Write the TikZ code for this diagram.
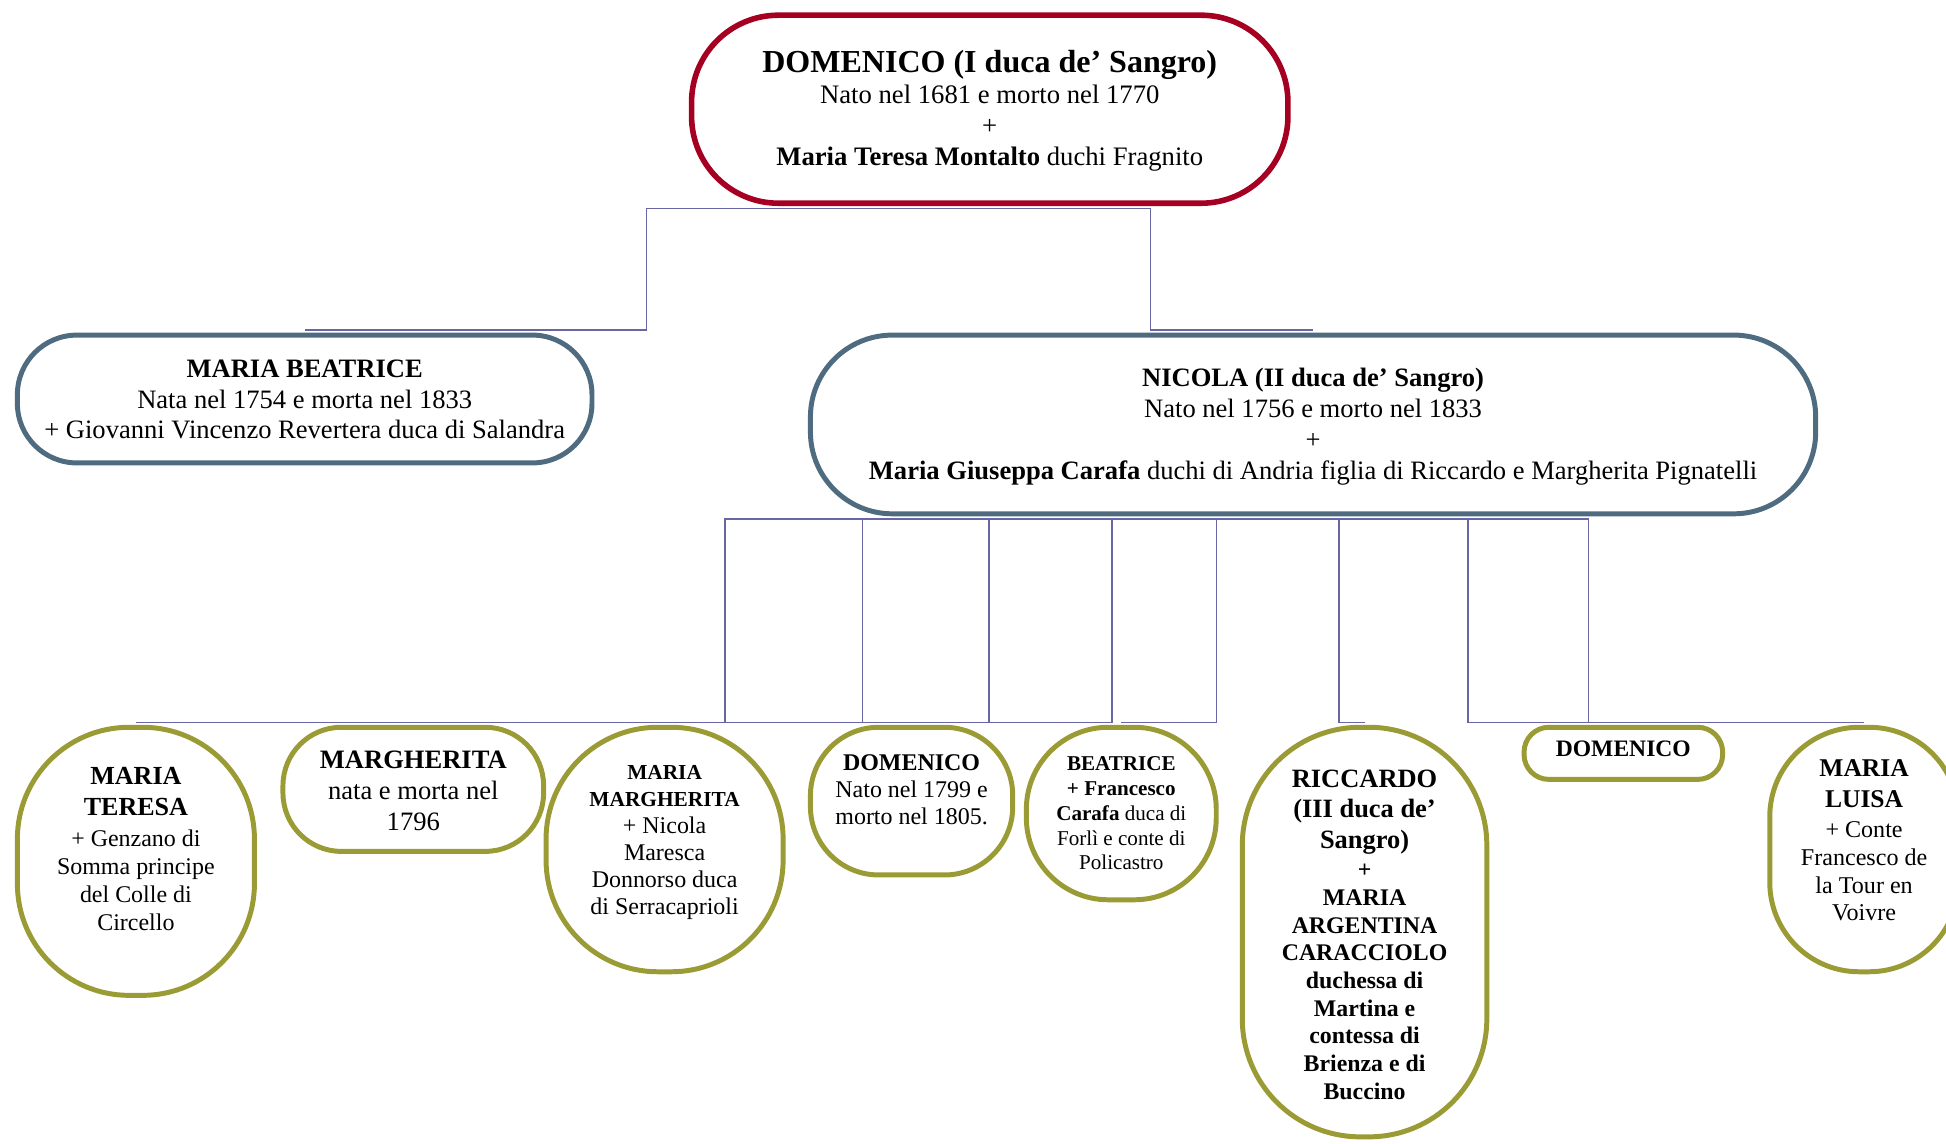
\documentclass[tikz,border=0pt]{standalone}
\usepackage{fontspec}
\setmainfont{Liberation Serif}
\definecolor{cRed}{RGB}{165,0,33}
\definecolor{cSlate}{RGB}{78,107,128}
\definecolor{cOlive}{RGB}{154,155,52}
\definecolor{cLine}{RGB}{105,102,165}
\tikzset{
  redbox/.style={draw=cRed, line width=4.5pt, outer sep=4.25pt, inner sep=0pt},
  slatebox/.style={draw=cSlate, line width=4pt, outer sep=4pt, inner sep=0pt},
  olivebox/.style={draw=cOlive, line width=4pt, outer sep=4pt, inner sep=0pt},
  conn/.style={draw=cLine, line width=1.2pt},
  txt/.style={anchor=north, inner sep=0pt, align=center},
}
\newcommand{\fs}[2]{\fontsize{#1}{#2}\selectfont}
\begin{document}
\begin{tikzpicture}[x=1pt,y=-1pt]
\clip (0,0) rectangle (1568,921);
% ---- parent shapes
\node[redbox, rounded corners=70pt, minimum width=480.5pt, minimum height=151.5pt] (dom) at (797.5,88) {};
\node[slatebox, rounded corners=48pt, minimum width=463pt, minimum height=103pt] (mb) at (245.5,321.5) {};
\node[slatebox, rounded corners=66pt, minimum width=810pt, minimum height=144pt] (nic) at (1058,342) {};
% ---- children shapes
\node[olivebox, rounded corners=90pt, minimum width=191pt, minimum height=216pt] (mt) at (109.5,694) {};
\node[olivebox, rounded corners=47pt, minimum width=210pt, minimum height=100pt] (mg) at (333,636) {};
\node[olivebox, rounded corners=90pt, minimum width=191pt, minimum height=197pt] (mm) at (535.5,684.5) {};
\node[olivebox, rounded corners=55pt, minimum width=163pt, minimum height=119pt] (d1) at (734.5,645.5) {};
\node[olivebox, rounded corners=66pt, minimum width=153pt, minimum height=139pt] (be) at (903.5,655.5) {};
\node[olivebox, rounded corners=95pt, minimum width=197pt, minimum height=330pt] (ri) at (1099.5,751) {};
\node[olivebox, rounded corners=20pt, minimum width=160pt, minimum height=42pt] (d2) at (1308,607) {};
\node[olivebox, rounded corners=72pt, minimum width=152pt, minimum height=197pt] (ml) at (1502,684.5) {};
% ---- texts
\node[txt, font=\fs{21.5}{25}] (dom-t) at (797.5,40)
  {{\fs{25.8}{25}\bfseries DOMENICO (I duca de' Sangro)}\\Nato nel 1681 e morto nel 1770\\+\\\textbf{Maria Teresa Montalto} duchi Fragnito};
\node[txt, font=\fs{21.4}{24.5}] (mb-t) at (245.5,290)
  {\textbf{MARIA BEATRICE}\\Nata nel 1754 e morta nel 1833\\+ Giovanni Vincenzo Revertera duca di Salandra};
\node[txt, font=\fs{21.4}{25}] (nic-t) at (1058,296)
  {\textbf{NICOLA (II duca de' Sangro)}\\Nato nel 1756 e morto nel 1833\\+\\\textbf{Maria Giuseppa Carafa} duchi di Andria figlia di Riccardo e Margherita Pignatelli};
\node[txt, font=\fs{19.3}{22.5}] (mt-t) at (109.5,618)
  {{\fs{21}{25}\bfseries MARIA}\\[2.5pt]{\fs{21}{25}\bfseries TERESA}\\[2.5pt]+ Genzano di\\Somma principe\\del Colle di\\Circello};
\node[txt, font=\fs{21.4}{25}] (mg-t) at (333,605)
  {\textbf{MARGHERITA}\\nata e morta nel\\1796};
\node[txt, font=\fs{19.3}{21.8}] (mm-t) at (535.5,616.3)
  {{\fs{17.2}{21}\bfseries MARIA}\\{\fs{17.2}{21}\bfseries MARGHERITA}\\+ Nicola\\Maresca\\Donnorso duca\\di Serracaprioli};
\node[txt, font=\fs{19.3}{22}] (d1-t) at (734.5,607.6)
  {\textbf{DOMENICO}\\Nato nel 1799 e\\morto nel 1805.};
\node[txt, font=\fs{17}{20}] (be-t) at (903.5,609.4)
  {\textbf{BEATRICE}\\\textbf{+ Francesco}\\\textbf{Carafa} duca di\\Forlì e conte di\\Policastro};
\node[txt, font=\fs{19.2}{22.3}\bfseries] (ri-t) at (1099.5,620)
  {{\fs{21.3}{24.5}RICCARDO}\\[2.2pt]{\fs{21.3}{24.5}(III duca de'}\\[2.2pt]{\fs{21.3}{24.5}Sangro)}\\[1.7pt]+\\MARIA\\ARGENTINA\\CARACCIOLO\\duchessa di\\Martina e\\contessa di\\Brienza e di\\Buccino};
\node[txt, font=\fs{19}{22}\bfseries] (d2-t) at (1308,596.7) {DOMENICO};
\node[txt, font=\fs{19.4}{22.3}] (ml-t) at (1502,612.2)
  {{\fs{20.6}{25}\bfseries MARIA}\\[2.7pt]{\fs{20.6}{25}\bfseries LUISA}\\[1.7pt]+ Conte\\Francesco de\\la Tour en\\Voivre};
% ---- connectors
\coordinate (k1) at (521,217);
\coordinate (k2) at (927,217);
\draw[conn] (dom.south) -| (k1) |- (mb.north);
\draw[conn] (dom.south) -| (k2) |- (nic.north);
\coordinate (v1) at (584,500);
\coordinate (v2) at (695,500);
\coordinate (v3) at (797,500);
\coordinate (v4) at (896,500);
\coordinate (v5) at (980,500);
\coordinate (v6) at (1079,500);
\coordinate (v7) at (1183,500);
\coordinate (v8) at (1280,500);
\draw[conn] (nic.south) -| (v1) |- (mt.north);
\draw[conn] (nic.south) -| (v2) |- (mg.north);
\draw[conn] (nic.south) -| (v3) |- (mm.north);
\draw[conn] (nic.south) -| (v4) |- (d1.north);
\draw[conn] (nic.south) -| (v5) |- (be.north);
\draw[conn] (nic.south) -| (v6) |- (ri.north);
\draw[conn] (nic.south) -| (v7) |- (d2.north);
\draw[conn] (nic.south) -| (v8) |- (ml.north);
\end{tikzpicture}
\end{document}
